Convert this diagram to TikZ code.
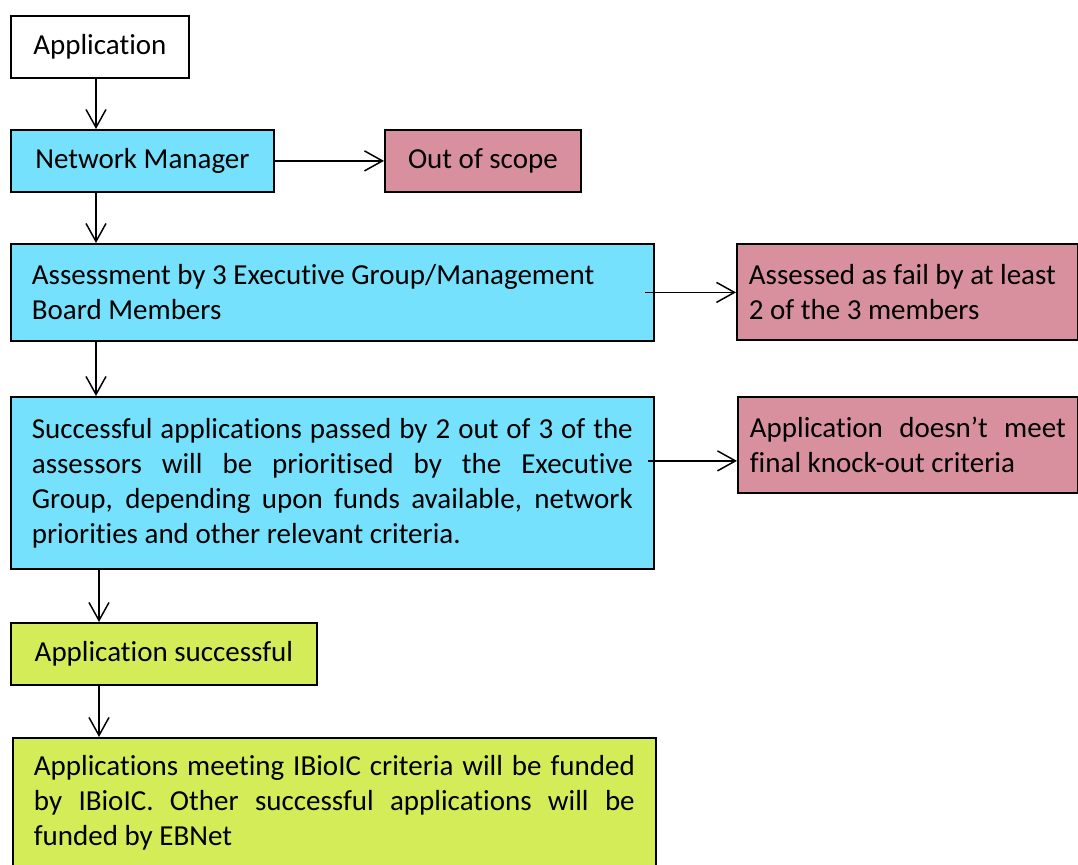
\documentclass[tikz,border=0pt]{standalone}
\usepackage{fontspec}
\setmainfont[Ligatures={TeX,NoCommon}]{Carlito}
\usetikzlibrary{arrows.meta}

\definecolor{mgrblue}{RGB}{117,225,252}
\definecolor{failpink}{RGB}{217,144,158}
\definecolor{okgreen}{RGB}{213,236,89}

\tikzset{
  stage/.style={draw=black, line width=0.9pt, anchor=north west, inner sep=0pt,
    font=\fontsize{14.5pt}{17.5pt}\selectfont},
  widestage/.style={stage, inner xsep=10.5pt, text width=300.5pt, align=justify},
  sidestage/.style={stage, fill=failpink, inner xsep=6pt, minimum height=48pt, align=justify},
  flow/.style={line width=0.75pt, arrows={-Straight Barb[length=9pt,width=10pt]}}
}

\begin{document}
\begin{tikzpicture}[x=0.5pt,y=-0.5pt]
\useasboundingbox (0,0) rectangle (1078,865);

\node[stage, minimum width=89pt, minimum height=31pt] (app) at (10,15) {Application};
\node[stage, fill=mgrblue, minimum width=131.5pt, minimum height=31pt] (nm) at (10,129) {Network Manager};
\node[stage, fill=failpink, minimum width=98pt, minimum height=31pt] (oos) at (384,129) {Out of scope};

\node[widestage, fill=mgrblue, minimum height=48.5pt] (assess) at (10,243)
  {Assessment by 3 Executive Group/Management\\Board Members};
\node[sidestage, text width=158.5pt] (fail) at (736,243)
  {Assessed as fail by at least\\2 of the 3 members};

\node[widestage, fill=mgrblue, minimum height=86pt] (success) at (10,396)
  {Successful applications passed by 2 out of 3 of the\linebreak
   assessors will be prioritised by the Executive\linebreak
   Group, depending upon funds available, network\linebreak
   priorities and other relevant criteria.};
\node[sidestage, text width=158pt] (knock) at (737,396)
  {Application doesn't meet\linebreak final knock-out criteria};

\node[stage, fill=okgreen, minimum width=153pt, minimum height=31pt] (appok) at (10,622) {Application successful};
\node[widestage, fill=okgreen, minimum height=65pt] (funded) at (12,737)
  {Applications meeting IBioIC criteria will be funded\linebreak
   by IBioIC. Other successful applications will be\linebreak
   funded by EBNet};

\coordinate (spine) at (96,0);
\coordinate (spinetwo) at (99,0);

\draw[flow] (app.south -| spine) -- (nm.north -| spine);
\draw[flow] (nm.south -| spine) -- (assess.north -| spine);
\draw[flow] (assess.south -| spine) -- (success.north -| spine);
\draw[flow] (success.south -| spinetwo) -- (appok.north -| spinetwo);
\draw[flow] (appok.south -| spinetwo) -- (funded.north -| spinetwo);

\draw[flow] (nm.east) -- (oos.west);
\draw[flow] ([xshift=-5pt]assess.east) -- (assess.east -| fail.west);
\draw[flow] ([shift={(-3.5pt,11pt)}]success.east) coordinate (koarrow) -- (koarrow -| knock.west);

\end{tikzpicture}
\end{document}
